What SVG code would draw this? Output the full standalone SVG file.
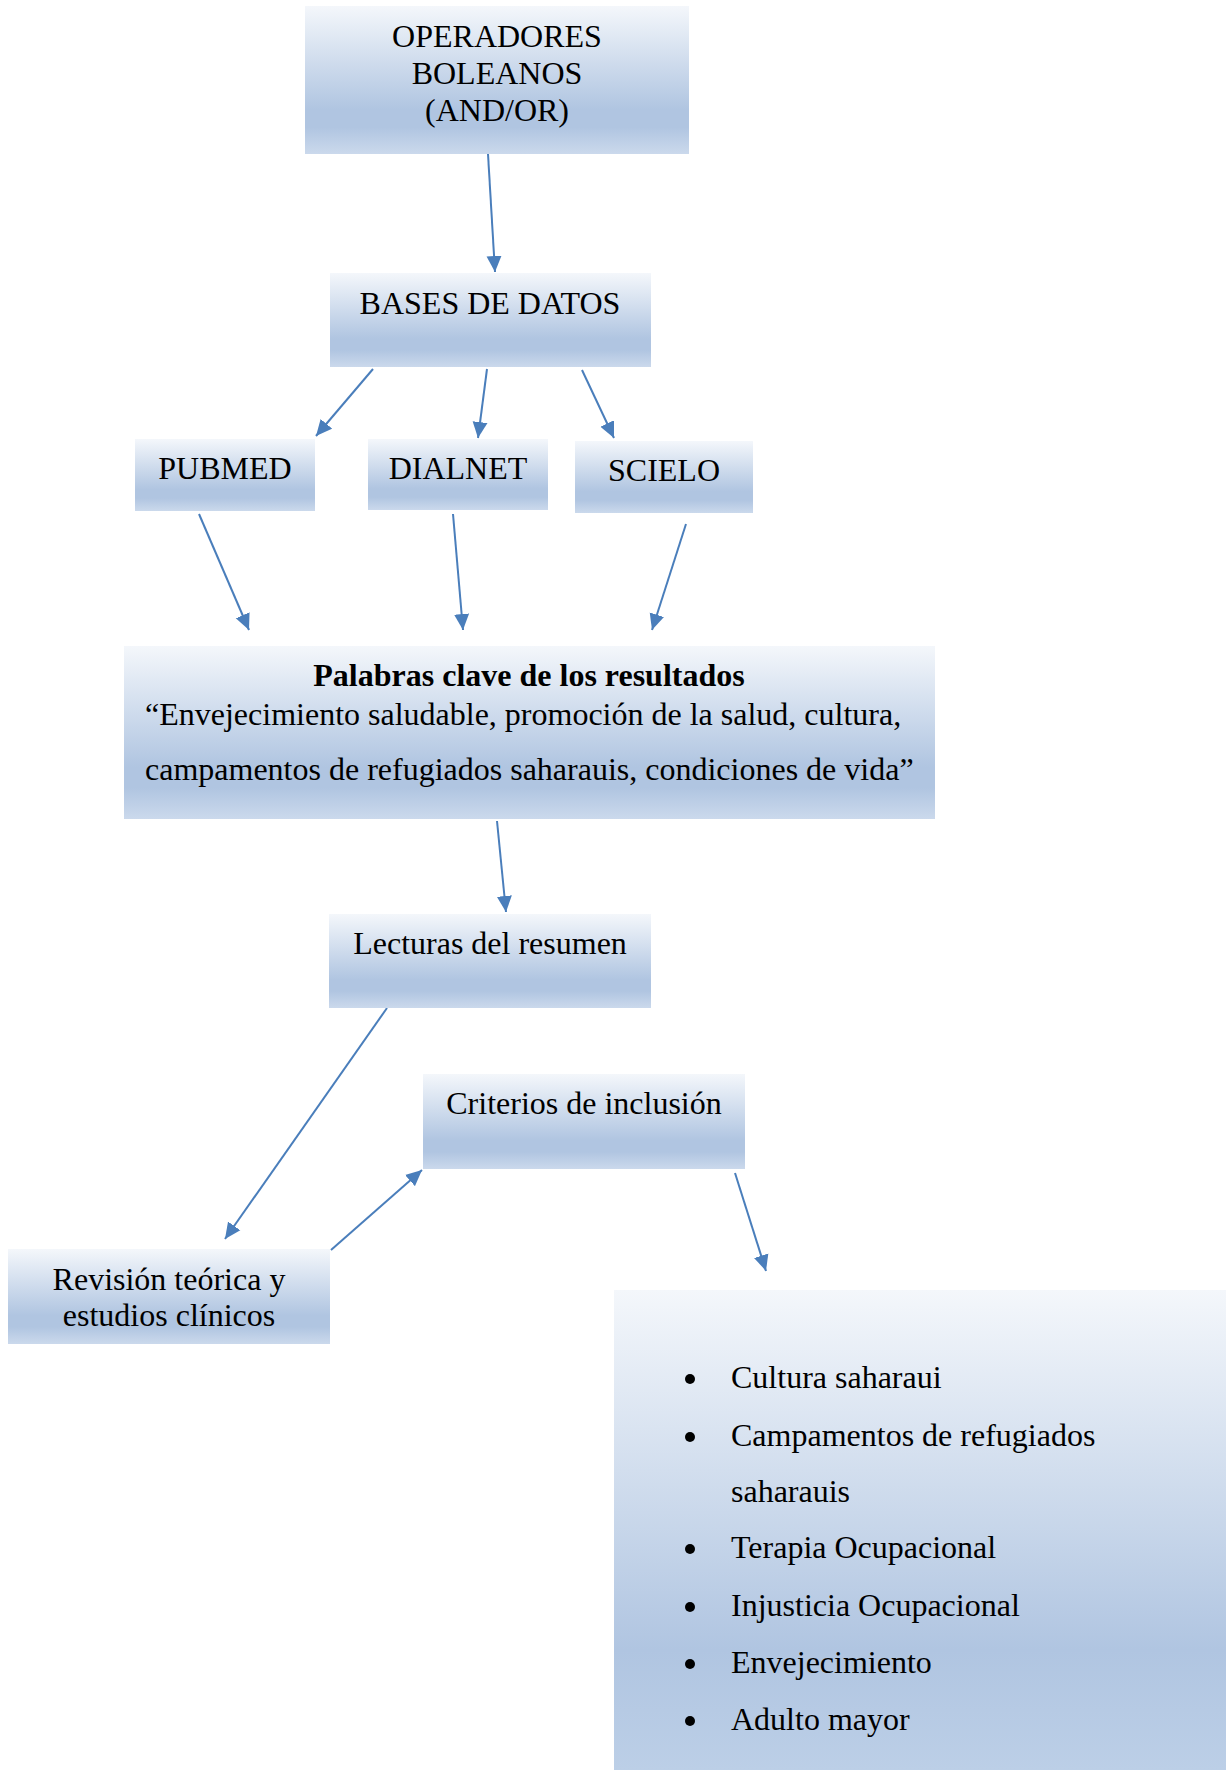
<svg xmlns="http://www.w3.org/2000/svg" width="1226" height="1770" viewBox="0 0 1226 1770">
<defs>
<linearGradient id="g" x1="0" y1="0" x2="0" y2="1">
<stop offset="0" stop-color="#f4f7fb"/>
<stop offset="0.7" stop-color="#b0c5e1"/>
<stop offset="0.82" stop-color="#b0c5e1"/>
<stop offset="1" stop-color="#cbd9ec"/>
</linearGradient>
<linearGradient id="g2" x1="0" y1="0" x2="0" y2="1">
<stop offset="0" stop-color="#f4f7fb"/>
<stop offset="0.75" stop-color="#b0c5e1"/>
<stop offset="1" stop-color="#bccfe7"/>
</linearGradient>
<marker id="ah" markerUnits="userSpaceOnUse" markerWidth="18" markerHeight="16" refX="16" refY="8" orient="auto">
<path d="M0,0.5 L16,8 L0,15.5 Z" fill="#4a7ebb"/>
</marker>
</defs>
<style>
.box{fill:url(#g);}
.t{font-family:"Liberation Serif","Times New Roman",serif;font-size:32px;fill:#000;}
.c{text-anchor:middle;}
.b{font-weight:bold;}
.ln{stroke:#4a7ebb;stroke-width:2;fill:none;marker-end:url(#ah);}
</style>
<rect width="1226" height="1770" fill="#ffffff"/>
<g id="connectors">
<line class="ln" x1="488" y1="154" x2="495" y2="272"/>
<line class="ln" x1="373" y1="369" x2="316" y2="436"/>
<line class="ln" x1="487" y1="369" x2="478" y2="438"/>
<line class="ln" x1="582" y1="370" x2="614" y2="438"/>
<line class="ln" x1="199" y1="514" x2="249" y2="630"/>
<line class="ln" x1="453" y1="514" x2="463" y2="630"/>
<line class="ln" x1="686" y1="524" x2="652" y2="630"/>
<line class="ln" x1="497" y1="821" x2="506" y2="912"/>
<line class="ln" x1="387" y1="1008" x2="225" y2="1239"/>
<line class="ln" x1="331" y1="1250" x2="422" y2="1170"/>
<line class="ln" x1="735" y1="1173" x2="766" y2="1271"/>
</g>
<g id="operadores">
<rect class="box" x="305" y="6" width="384" height="148"/>
<text class="t c" x="497" y="47">OPERADORES</text>
<text class="t c" x="497" y="84">BOLEANOS</text>
<text class="t c" x="497" y="121">(AND/OR)</text>
</g>
<g id="bases">
<rect class="box" x="330" y="273" width="321" height="94"/>
<text class="t c" x="490" y="314">BASES DE DATOS</text>
</g>
<g id="pubmed">
<rect class="box" x="135" y="439" width="180" height="72"/>
<text class="t c" x="225" y="479">PUBMED</text>
</g>
<g id="dialnet">
<rect class="box" x="368" y="439" width="180" height="71"/>
<text class="t c" x="458" y="479">DIALNET</text>
</g>
<g id="scielo">
<rect class="box" x="575" y="441" width="178" height="72"/>
<text class="t c" x="664" y="481">SCIELO</text>
</g>
<g id="palabras">
<rect class="box" x="124" y="646" width="811" height="173"/>
<text class="t c b" x="529" y="686">Palabras clave de los resultados</text>
<text class="t" x="145" y="725">“Envejecimiento saludable, promoción de la salud, cultura,</text>
<text class="t" x="145" y="780">campamentos de refugiados saharauis, condiciones de vida”</text>
</g>
<g id="lecturas">
<rect class="box" x="329" y="914" width="322" height="94"/>
<text class="t c" x="490" y="954">Lecturas del resumen</text>
</g>
<g id="criterios">
<rect class="box" x="423" y="1074" width="322" height="95"/>
<text class="t c" x="584" y="1114">Criterios de inclusión</text>
</g>
<g id="revision">
<rect class="box" x="8" y="1249" width="322" height="95"/>
<text class="t c" x="169" y="1290">Revisión teórica y</text>
<text class="t c" x="169" y="1326">estudios clínicos</text>
</g>
<g id="lista">
<rect x="614" y="1290" width="612" height="480" fill="url(#g2)"/>
<g fill="#000">
<circle cx="690" cy="1379" r="5"/>
<circle cx="690" cy="1437" r="5"/>
<circle cx="690" cy="1549" r="5"/>
<circle cx="690" cy="1607" r="5"/>
<circle cx="690" cy="1664" r="5"/>
<circle cx="690" cy="1721" r="5"/>
</g>
<text class="t" x="731" y="1388">Cultura saharaui</text>
<text class="t" x="731" y="1446">Campamentos de refugiados</text>
<text class="t" x="731" y="1502">saharauis</text>
<text class="t" x="731" y="1558">Terapia Ocupacional</text>
<text class="t" x="731" y="1616">Injusticia Ocupacional</text>
<text class="t" x="731" y="1673">Envejecimiento</text>
<text class="t" x="731" y="1730">Adulto mayor</text>
</g>
</svg>
